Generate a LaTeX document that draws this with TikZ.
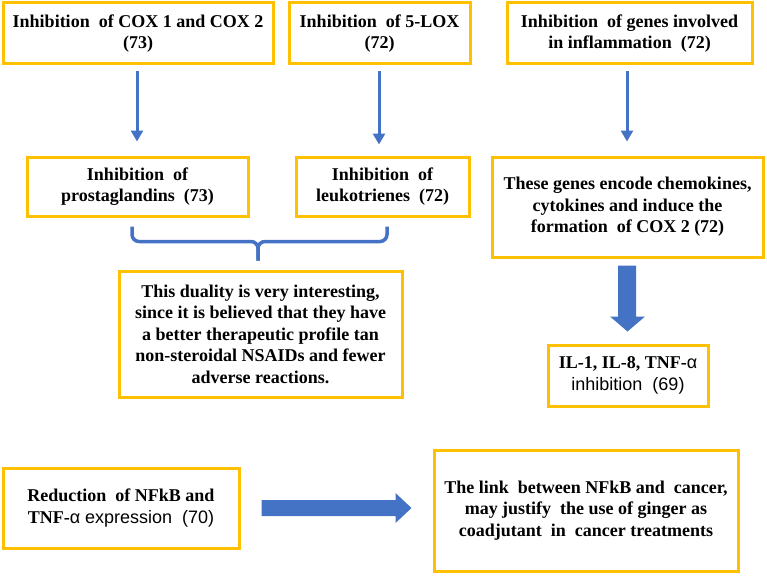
\documentclass[tikz,border=0pt]{standalone}
\usepackage{fontspec}
\setmainfont{Liberation Serif}
\newfontfamily\timesfont{Liberation Serif}
\newfontfamily\arialfont{Liberation Sans}
\definecolor{boxorange}{RGB}{255,192,0}
\definecolor{flowblue}{RGB}{68,114,196}
\usetikzlibrary{calc}
\usetikzlibrary{arrows.meta}
\tikzset{
  infobox/.style={draw=boxorange, line width=3pt, align=center, inner sep=2pt,
    font=\timesfont\bfseries\fontsize{18}{21.5}\selectfont},
  thinarrow/.style={flowblue, line width=3pt, -{Triangle[width=12pt,length=11pt]}},
  bigarrow/.style={fill=flowblue, draw=none},
  brace/.style={flowblue, line width=3.5pt, rounded corners=7pt}
}

\begin{document}
\begin{tikzpicture}[x=1pt, y=-1pt]
  \useasboundingbox (0,0) rectangle (767,575);

  % top row
  \node [infobox, minimum width=270, minimum height=61] (cox) at (138,33.5)
    {Inhibition\ \ of COX 1 and COX 2\\(73)};
  \node [infobox, minimum width=181, minimum height=61] (lox) at (379.5,33.5)
    {Inhibition\ \ of 5-LOX\\(72)};
  \node [infobox, minimum width=245, minimum height=61] (genes) at (629.5,33.5)
    {Inhibition\ \ of genes involved\\in inflammation\ \ (72)};

  % second row
  \node [infobox, minimum width=221, minimum height=59] (prost) at (137.5,186.5)
    {Inhibition\ \ of\\prostaglandins\ \ (73)};
  \node [infobox, minimum width=173, minimum height=59] (leuko) at (382.5,186.5)
    {Inhibition\ \ of\\leukotrienes\ \ (72)};
  \node [infobox, minimum width=271, minimum height=100] (encode) at (627.5,207)
    {These genes encode chemokines,\\cytokines and induce the\\formation\ \ of COX 2 (72)};

  \node [infobox, minimum width=283, minimum height=126] (duality) at (260.5,334)
    {This duality is very interesting,\\since it is believed that they have\\a better therapeutic profile tan\\non-steroidal NSAIDs and fewer\\adverse reactions.};
  \node [infobox, minimum width=160, minimum height=61] (ilbox) at (628,375.5)
    {IL-1, IL-8, TNF-{\arialfont\mdseries α}\\{\arialfont\mdseries inhibition\ \ (69)}};

  % bottom row
  \node [infobox, minimum width=236, minimum height=80] (reduce) at (121,508)
    {Reduction\ \ of NFkB and\\TNF-{\arialfont\mdseries α expression\ \ (70)}};
  \node [infobox, minimum width=304, minimum height=121] (link) at (586,510.5)
    {The link\ \ between NFkB and\ \ cancer,\\may justify\ \ the use of ginger as\\coadjutant\ \ in\ \ cancer treatments};

  % thin arrows
  \draw [thinarrow] ($(cox.south)+(-1,6)$) -- ($(prost.north)+(-0.5,-14)$);
  \draw [thinarrow] ($(lox.south)+(-0.5,6)$) -- ($(lox.south)+(-0.5,79)$);
  \draw [thinarrow] ($(genes.south)+(-2.5,6)$) -- ($(encode.north)+(-0.5,-14)$);

  % bracket under prostaglandins and leukotrienes
  \coordinate (bl) at ($(prost.south)+(-5.5,9)$);
  \coordinate (br) at ($(leuko.south)+(4.5,9)$);
  \coordinate (btip) at ($(duality.north)+(-2.5,-9)$);
  \draw [brace] (bl) |- ($(btip)+(0,-19)$) -- (btip);
  \draw [brace] (br) |- ($(btip)+(0,-19)$) -- (btip);

  % block arrow down
  \fill [bigarrow] ($(encode.south)+(-9.5,7)$) -- ($(encode.south)+(8.5,7)$)
    -- ($(encode.south)+(8.5,58)$) -- ($(encode.south)+(17.5,58)$)
    -- ($(ilbox.north)+(-0.5,-12)$) -- ($(encode.south)+(-17.5,58)$)
    -- ($(encode.south)+(-9.5,58)$) -- cycle;

  % block arrow right
  \coordinate (ra) at ($(reduce.east)+(21,0)$);
  \coordinate (rb) at ($(reduce.east -| link.west)+(-21,0)$);
  \fill [bigarrow] ($(ra)+(0,-8)$) -- ($(rb)+(-16,-8)$) -- ($(rb)+(-16,-15)$)
    -- (rb) -- ($(rb)+(-16,15)$) -- ($(rb)+(-16,8)$) -- ($(ra)+(0,8)$) -- cycle;
\end{tikzpicture}
\end{document}
